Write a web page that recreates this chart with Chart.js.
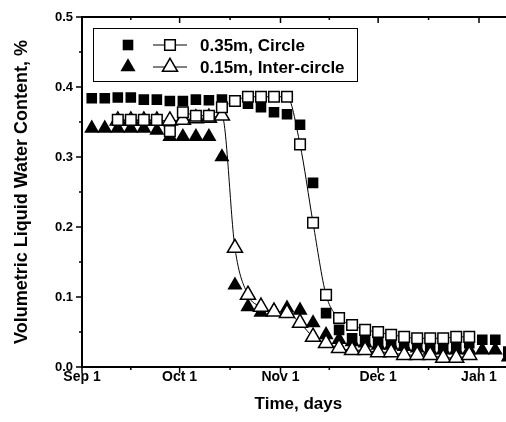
<!DOCTYPE html>
<html>
<head>
<meta charset="utf-8">
<title>Volumetric liquid water content</title>
<script src="https://cdn.jsdelivr.net/npm/chart.js@4.4.1/dist/chart.umd.min.js"></script>
<style>
  html, body { margin: 0; padding: 0; background: #fff; overflow: hidden; }
  #wrap { width: 530px; height: 422px; }
</style>
</head>
<body>
<div id="wrap"><canvas id="chartWater" width="530" height="422"></canvas></div>
<script>
// ============================================================
// Volumetric liquid water content vs. time
// Measured points (filled) and fitted curves (open + line)
// ============================================================

// Days counted from Sep 1
const DAYS_MEASURED = [3, 7, 11, 15, 19, 23, 27, 31, 35, 39, 43, 47, 51, 55, 59, 63, 67,
                       71, 75, 79, 83, 87, 91, 95, 99, 103, 107, 111, 115, 119, 123, 127, 131];
const DAYS_FIT      = [11, 15, 19, 23, 27, 31, 35, 39, 43, 47, 51, 55, 59, 63, 67,
                       71, 75, 79, 83, 87, 91, 95, 99, 103, 107, 111, 115, 119];

// 0.35m, Circle
const CIRCLE_MEASURED = [0.384, 0.384, 0.385, 0.385, 0.382, 0.382, 0.380, 0.380, 0.382, 0.381, 0.382,
                         0.379, 0.376, 0.371, 0.364, 0.361, 0.346, 0.263, 0.077, 0.053, 0.041, 0.039,
                         0.036, 0.034, 0.031, 0.031, 0.031, 0.031, 0.031, 0.034, 0.039, 0.039, 0.022];
const CIRCLE_FIT      = [0.353, 0.353, 0.353, 0.353, 0.337, 0.364, 0.359, 0.359, 0.371, 0.380, 0.386,
                         0.386, 0.386, 0.386, 0.318, 0.206, 0.103, 0.070, 0.060, 0.053, 0.050, 0.046,
                         0.043, 0.041, 0.041, 0.041, 0.043, 0.043];

// 0.15m, Inter-circle
const INTER_MEASURED  = [0.341, 0.341, 0.341, 0.341, 0.341, 0.338, 0.329, 0.329, 0.329, 0.329, 0.300,
                         0.117, 0.086, 0.078, 0.080, 0.084, 0.081, 0.063, 0.046, 0.039, 0.036, 0.034,
                         0.031, 0.031, 0.029, 0.027, 0.024, 0.024, 0.024, 0.024, 0.024, 0.024, 0.014];
const INTER_FIT       = [0.352, 0.352, 0.352, 0.352, 0.352, 0.353, 0.355, 0.356, 0.359, 0.170, 0.103,
                         0.086, 0.079, 0.077, 0.063, 0.043, 0.034, 0.027, 0.024, 0.024, 0.021, 0.021,
                         0.017, 0.017, 0.017, 0.013, 0.013, 0.017];

const SERIES_LABELS = ["0.35m, Circle", "0.15m, Inter-circle"];

// Axes
const X_TICKS       = [0, 30, 61, 91, 122];
const X_TICK_LABELS = ["Sep 1", "Oct 1", "Nov 1", "Dec 1", "Jan 1"];
const X_MINOR_TICKS = [15, 45.5, 76, 106.5];
const Y_TICKS       = [0, 0.1, 0.2, 0.3, 0.4, 0.5];
const Y_MINOR_TICKS = [0.05, 0.15, 0.25, 0.35, 0.45];

const FONT = "'Liberation Sans', Arial, Helvetica, sans-serif";
const INK  = "#000";

const toPoints = (days, values) => days.map((d, i) => ({ x: d, y: values[i] }));

/** Frame: top border, outward ticks on bottom/left, inward ticks on top */
const framePlugin = {
  id: "frame",
  afterDraw(chart) {
    const { ctx, chartArea: a, scales: { x, y } } = chart;
    ctx.save();
    ctx.strokeStyle = INK;
    ctx.lineWidth = 2;
    ctx.beginPath();
    ctx.moveTo(a.left, a.top);
    ctx.lineTo(a.right, a.top);
    ctx.lineTo(a.right, a.bottom);
    ctx.stroke();

    ctx.lineWidth = 1.5;
    ctx.beginPath();
    const xTick = (v, len) => {
      const px = x.getPixelForValue(v);
      ctx.moveTo(px, a.bottom); ctx.lineTo(px, a.bottom + len);
      ctx.moveTo(px, a.top);    ctx.lineTo(px, a.top + len);
    };
    const yTick = (v, len) => {
      const py = y.getPixelForValue(v);
      ctx.moveTo(a.left, py);  ctx.lineTo(a.left - len, py);
      ctx.moveTo(a.right, py); ctx.lineTo(a.right - len, py);
    };
    X_TICKS.forEach(v => xTick(v, 6));
    X_MINOR_TICKS.forEach(v => xTick(v, 3));
    Y_TICKS.forEach(v => yTick(v, 6));
    Y_MINOR_TICKS.forEach(v => yTick(v, 3));
    ctx.stroke();
    ctx.restore();
  }
};

/** Boxed legend: filled marker, line + open marker, label */
const legendPlugin = {
  id: "boxLegend",
  afterDraw(chart) {
    const ctx = chart.ctx;
    const ds = chart.data.datasets;
    // rows: [measured dataset, fit dataset]
    const rows = [[ds[2], ds[0]], [ds[3], ds[1]]];
    const box = { x: 93.5, y: 28.5, w: 264, h: 53 };
    const rowY = [45, 67];

    ctx.save();
    ctx.strokeStyle = INK;
    ctx.lineWidth = 1;
    ctx.strokeRect(box.x, box.y, box.w, box.h);

    rows.forEach(([measured, fit], i) => {
      const cy = rowY[i];
      ctx.fillStyle = INK;
      Chart.helpers.drawPoint(ctx, {
        pointStyle: measured.pointStyle, radius: measured.pointRadius, borderWidth: 0, rotation: 0
      }, 128, cy);

      ctx.strokeStyle = INK;
      ctx.lineWidth = 1;
      ctx.beginPath();
      ctx.moveTo(153, cy); ctx.lineTo(187, cy);
      ctx.stroke();

      ctx.fillStyle = "#fff";
      ctx.lineWidth = fit.pointBorderWidth;
      Chart.helpers.drawPoint(ctx, {
        pointStyle: fit.pointStyle, radius: fit.pointRadius, borderWidth: fit.pointBorderWidth, rotation: 0
      }, 170, cy);

      ctx.fillStyle = INK;
      ctx.font = `bold 17px ${FONT}`;
      ctx.textBaseline = "middle";
      ctx.textAlign = "left";
      ctx.fillText(SERIES_LABELS[i], 200, cy + 1);
    });
    ctx.restore();
  }
};

const fitLine = (data, style, radius) => ({
  data,
  showLine: true,
  borderColor: INK,
  borderWidth: 1,
  cubicInterpolationMode: "monotone",
  pointStyle: style,
  pointRadius: radius,
  pointBackgroundColor: "#fff",
  pointBorderColor: INK,
  pointBorderWidth: 1.5
});

const measuredPoints = (data, style, radius) => ({
  data,
  showLine: false,
  pointStyle: style,
  pointRadius: radius,
  pointBackgroundColor: INK,
  pointBorderColor: INK,
  pointBorderWidth: 0
});

new Chart(document.getElementById("chartWater"), {
  type: "scatter",
  data: {
    // index 0 is painted last (on top)
    datasets: [
      fitLine(toPoints(DAYS_FIT, CIRCLE_FIT), "rect", 7.5),
      fitLine(toPoints(DAYS_FIT, INTER_FIT), "triangle", 8.7),
      measuredPoints(toPoints(DAYS_MEASURED, CIRCLE_MEASURED), "rect", 7.5),
      measuredPoints(toPoints(DAYS_MEASURED, INTER_MEASURED), "triangle", 8.7)
    ]
  },
  options: {
    responsive: false,
    animation: false,
    events: [],
    layout: { padding: { top: 17, right: 15.2, left: 0, bottom: 0 } },
    plugins: {
      legend: { display: false },
      tooltip: { enabled: false }
    },
    scales: {
      x: {
        type: "linear",
        min: 0,
        max: 133,
        afterBuildTicks: (s) => { s.ticks = X_TICKS.map(v => ({ value: v })); },
        afterFit: (s) => { s.height = 55; },
        grid: { display: false, drawTicks: false },
        border: { display: true, color: INK, width: 2 },
        ticks: {
          padding: 2,
          color: INK,
          autoSkip: false,
          maxRotation: 0,
          font: { family: FONT, size: 14, weight: "bold" },
          callback: (v, i) => X_TICK_LABELS[i]
        },
        title: {
          display: true,
          text: "Time, days",
          color: INK,
          font: { family: FONT, size: 17, weight: "bold" },
          padding: { top: 0, bottom: 7 }
        }
      },
      y: {
        min: 0,
        max: 0.5,
        afterBuildTicks: (s) => { s.ticks = Y_TICKS.map(v => ({ value: v })); },
        afterFit: (s) => { s.width = 82; },
        grid: { display: false, drawTicks: false },
        border: { display: true, color: INK, width: 2 },
        ticks: {
          padding: 9,
          color: INK,
          font: { family: FONT, size: 13, weight: "bold" },
          callback: (v) => v.toFixed(1)
        },
        title: {
          display: true,
          text: "Volumetric Liquid Water Content, %",
          color: INK,
          font: { family: FONT, size: 18, weight: "bold" },
          padding: { top: 11, bottom: 0 }
        }
      }
    }
  },
  plugins: [framePlugin, legendPlugin]
});
</script>
</body>
</html>
